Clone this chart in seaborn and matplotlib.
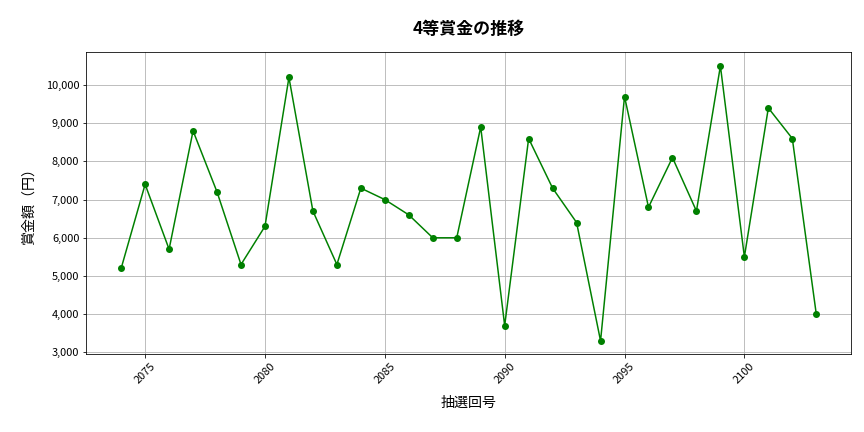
import matplotlib
matplotlib.use("Agg")
import matplotlib.pyplot as plt
import matplotlib.ticker as mticker
import seaborn as sns
import pandas as pd

draws = list(range(2074, 2104))
prizes = [5200, 7400, 5700, 8800, 7200, 5300, 6300, 10200, 6700, 5300,
          7300, 7000, 6600, 6000, 6000, 8900, 3700, 8600, 7300, 6400,
          3300, 9700, 6800, 8100, 6700, 10500, 5500, 9400, 8600, 4000]

df = pd.DataFrame({'draw': draws, 'prize': prizes})

plt.rcParams['font.family'] = ['Noto Sans CJK JP', 'DejaVu Sans']

fig, ax = plt.subplots(figsize=(12, 6), dpi=72)
sns.lineplot(data=df, x='draw', y='prize', color='green', marker='o',
             markersize=7, markeredgewidth=0, linewidth=1.5, ax=ax)
ax.set_title('4等賞金の推移', fontsize=17, fontweight='bold', pad=18)
ax.set_xlabel('抽選回号', fontsize=14, labelpad=10)
ax.set_ylabel('賞金額（円）', fontsize=14, labelpad=10)
ax.yaxis.set_major_formatter(mticker.StrMethodFormatter('{x:,.0f}'))
ax.xaxis.set_major_locator(mticker.MultipleLocator(5))
ax.yaxis.set_major_locator(mticker.MultipleLocator(1000))
ax.set_ylim(2950, 10870)
ax.tick_params(labelsize=11)
ax.grid(True, color='#b0b0b0', linewidth=0.8)
plt.xticks(rotation=45)
plt.subplots_adjust(left=0.1, right=0.985, top=0.88, bottom=0.18)
plt.savefig('out.png')
